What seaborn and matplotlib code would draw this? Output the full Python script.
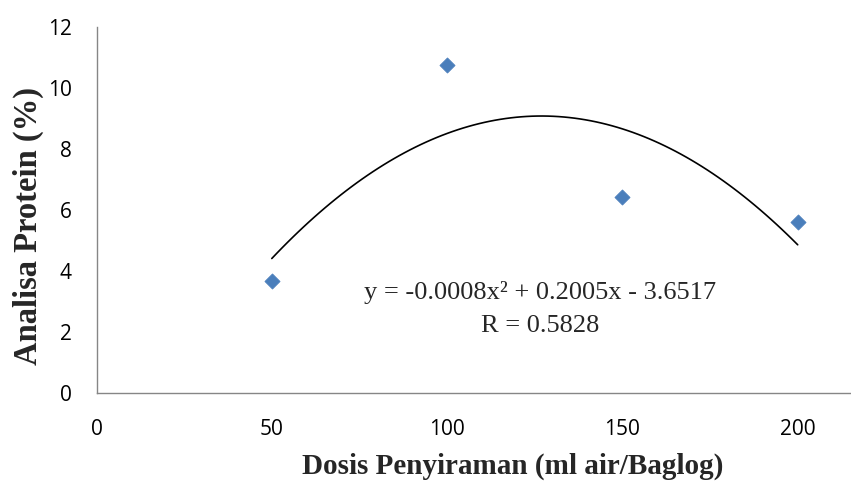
import matplotlib
matplotlib.use("Agg")
import matplotlib.pyplot as plt
import seaborn as sns
import pandas as pd

# Data
dosis = [50, 100, 150, 200]
protein = [3.65, 10.75, 6.40, 5.60]
x_ticks = [0, 50, 100, 150, 200]
y_ticks = [0, 2, 4, 6, 8, 10, 12]
equation = "y = -0.0008x\u00b2 + 0.2005x - 3.6517"
r_text = "R = 0.5828"
x_label = "Dosis Penyiraman (ml air/Baglog)"
y_label = "Analisa Protein (%)"

df = pd.DataFrame({"dosis": dosis, "protein": protein})

sns.set_theme(style="white")
plt.rcParams["font.family"] = ["Open Sans", "DejaVu Sans"]

fig = plt.figure(figsize=(8.51, 4.84), dpi=100)
ax = fig.add_axes([96.5 / 851, 1 - 392.7 / 484, 1 - 96.5 / 851, (392.7 - 26.7) / 484])

sns.regplot(data=df, x="dosis", y="protein", order=2, ci=None, scatter=False,
            truncate=True, ax=ax, line_kws=dict(color="black", lw=1.2))
sns.scatterplot(data=df, x="dosis", y="protein", marker="D", s=60,
                color="#4A7EBB", edgecolor="#4A7EBB", linewidth=0.5, ax=ax, zorder=3)

ax.set_xlim(0, (851 - 96.5) / 3.506)
ax.set_ylim(0, 12)
ax.set_xticks(x_ticks)
ax.set_yticks(y_ticks)
ax.set_xticklabels([str(v) for v in x_ticks])
ax.set_yticklabels([str(v) for v in y_ticks])

for side in ["top", "right"]:
    ax.spines[side].set_visible(False)
for side in ["left", "bottom"]:
    ax.spines[side].set_color("#868686")
    ax.spines[side].set_linewidth(1.0)
ax.tick_params(axis="both", which="major", direction="out", length=6, width=1.0,
               color="#868686", labelsize=15, labelcolor="black")
ax.tick_params(axis="x", pad=13)
ax.tick_params(axis="y", pad=12)
ax.grid(False)

serif = ["Liberation Serif", "DejaVu Serif"]
ax.set_xlabel(x_label, fontsize=21, fontweight="bold", family=serif)
ax.set_ylabel(y_label, fontsize=23.5, fontweight="bold", family=serif)
ax.xaxis.set_label_coords(0.551, -0.165)
ax.yaxis.set_label_coords(-0.07, 1 - (226 - 26.7) / 366)

ax.text(0.588, 1 - (293 - 26.7) / 366, equation, transform=ax.transAxes,
        ha="center", va="center", fontsize=19, family=serif)
ax.text(0.588, 1 - (326 - 26.7) / 366, r_text, transform=ax.transAxes,
        ha="center", va="center", fontsize=19, family=serif)

fig.savefig("out.png", dpi=100)
